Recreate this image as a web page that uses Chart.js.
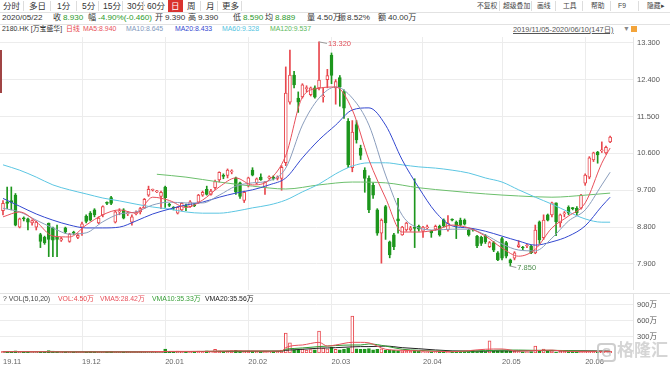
<!DOCTYPE html>
<html>
<head>
<meta charset="utf-8">
<script src="https://cdn.jsdelivr.net/npm/chart.js@4.4.0/dist/chart.umd.min.js"></script>
<style>
  body { margin: 0; width: 670px; height: 367px; overflow: hidden; background: #fff; position: relative;
         font-family: "Liberation Sans", "Noto Sans CJK SC", sans-serif; color: #333; }
  .a { position: absolute; white-space: nowrap; line-height: 1; }
  .tab { font-size: 8.5px; top: 2px; color: #333; }
  .sep { position: absolute; top: 1px; width: 1px; height: 10px; background: #ddd; }
  .tool { font-size: 6.8px; top: 3px; color: #444; }
  .r2 { font-size: 8.1px; top: 14px; }
  .r3 { font-size: 6.9px; top: 26px; }
  .vl { font-size: 6.9px; top: 296px; }
  .hl { position: absolute; left: 0; width: 670px; height: 1px; background: #e2e2e2; }
  .g { color: #2a9a2a; }
  .rd { color: #e8474d; }
  canvas { position: absolute; left: 0; }
</style>
</head>
<body>

<!-- toolbar -->
<div class="a tab" style="left:3px">分时</div>
<div class="sep" style="left:23px"></div>
<div class="a tab" style="left:29px">多日</div>
<div class="sep" style="left:50px"></div>
<div class="a tab" style="left:57px">1分</div>
<div class="sep" style="left:76px"></div>
<div class="a tab" style="left:82px">5分</div>
<div class="sep" style="left:98px"></div>
<div class="a tab" style="left:103px">15分</div>
<div class="sep" style="left:122px"></div>
<div class="a tab" style="left:127px">30分</div>
<div class="sep" style="left:143px"></div>
<div class="a tab" style="left:147px">60分</div>
<div class="a" style="left:168px;top:0;width:15px;height:12px;background:#d9322e;"></div>
<div class="a tab" style="left:171px;color:#fff">日</div>
<div class="a tab" style="left:187px">周</div>
<div class="sep" style="left:200px"></div>
<div class="a tab" style="left:206px">月</div>
<div class="sep" style="left:217px"></div>
<div class="a tab" style="left:222px">更多</div>
<div class="sep" style="left:241px"></div>

<div class="a tool" style="left:477px">不复权</div>
<div class="sep" style="left:499px"></div>
<div class="a tool" style="left:503px">超级叠加</div>
<div class="sep" style="left:531px"></div>
<div class="a tool" style="left:537px">画线</div>
<div class="sep" style="left:555px"></div>
<div class="a tool" style="left:563px">工具</div>
<div class="sep" style="left:582px"></div>
<div class="a tool" style="left:591px">帮助</div>
<div class="sep" style="left:610px"></div>
<div class="a tool" style="left:618px">F9</div>
<div class="sep" style="left:638px"></div>
<div class="a tool" style="left:647px">隐藏▸</div>
<div class="hl" style="top:12px"></div>

<!-- quote line -->
<div class="a r2" style="left:2px">2020/05/22</div>
<div class="a r2" style="left:53px">收</div><div class="a r2 g" style="left:63px">8.930</div>
<div class="a r2" style="left:88px">幅</div><div class="a r2 g" style="left:98px">-4.90%(-0.460)</div>
<div class="a r2" style="left:155px">开</div><div class="a r2" style="left:165px">9.390</div>
<div class="a r2" style="left:188px">高</div><div class="a r2" style="left:198px">9.390</div>
<div class="a r2" style="left:233px">低</div><div class="a r2 g" style="left:243px">8.590</div>
<div class="a r2" style="left:265px">均</div><div class="a r2 g" style="left:275px">8.889</div>
<div class="a r2" style="left:307px">量</div><div class="a r2" style="left:317px">4.50万</div>
<div class="a r2" style="left:338px">振</div><div class="a r2" style="left:347px">8.52%</div>
<div class="a r2" style="left:378px">额</div><div class="a r2" style="left:388px">40.00万</div>
<div class="hl" style="top:24px"></div>

<!-- MA legend line -->
<div class="a r3" style="left:2px">2180.HK [万宝盛华]</div>
<div class="a r3 rd" style="left:66px">日线</div>
<div class="a r3" style="left:83px;color:#e8505b">MA5:8.940</div>
<div class="a r3" style="left:126px;color:#7f98bd">MA10:8.645</div>
<div class="a r3" style="left:175px;color:#3348d0">MA20:8.433</div>
<div class="a r3" style="left:222px;color:#52c3e0">MA60:9.328</div>
<div class="a r3" style="left:270px;color:#5cb85c">MA120:9.537</div>
<div class="a r3" style="left:513px;color:#555;text-decoration:underline;font-size:7.4px">2019/11/05-2020/06/10(147日)</div>
<div class="a r3" style="left:623px;color:#888">▼</div>
<div class="a" style="left:631px;top:26px;width:6px;height:6px;background:#f3a43a;"></div>

<canvas id="price" width="670" height="253" style="top:37px"></canvas>
<canvas id="vol" width="670" height="77" style="top:290px"></canvas>

<div class="hl" style="top:293px"></div>
<div class="a vl" style="left:3px;color:#444">? VOL(5,10,20)</div>
<div class="a vl" style="left:58px;color:#e8474d">VOL:4.50万</div>
<div class="a vl" style="left:100px;color:#e8505b">VMA5:28.42万</div>
<div class="a vl" style="left:152px;color:#3aa03a">VMA10:35.33万</div>
<div class="a vl" style="left:205px;color:#222">VMA20:35.56万</div>

<div class="a" style="left:0;top:50px;width:2px;height:43px;background:#a04444;"></div>

<!-- watermark -->
<div class="a" style="left:597px;top:343px;width:15px;height:15px;border:2px solid rgba(190,190,190,0.75);border-radius:4px;
     font-size:13px;font-weight:bold;color:rgba(190,190,190,0.75);text-align:center;line-height:15px;">G</div>
<div class="a" style="left:617px;top:342px;font-size:17px;font-weight:bold;color:rgba(195,195,195,0.7);">格隆汇</div>

<script>
// ── DATA ─────────────────────────────────────
// 147 daily candles, 2019/11/05 – 2020/06/10 (x = trading-day index)
const opens = [
  9.20,9.42,9.45,9.58,8.80,9.02,9.00,8.90,8.80,8.62,8.55,8.90,8.78,8.55,8.48,8.78,8.45,8.68,8.55,
  8.80,9.07,9.14,9.22,8.90,9.10,9.40,9.52,8.92,9.17,9.22,9.12,8.92,9.12,9.17,9.27,9.58,9.70,9.66,9.55,
  9.78,9.35,9.28,9.14,9.22,9.32,9.30,9.34,9.41,9.58,9.72,9.60,9.76,9.95,10.06,10.06,10.15,10.00,9.88,9.45,
  9.82,10.19,9.87,10.02,9.76,10.00,10.02,9.99,9.99,
  10.37,11.85,12.51,11.95,11.98,12.18,12.03,12.20,12.20,11.98,12.40,13.00,12.20,12.45,12.10,11.38,10.25,
  11.30,10.73,10.19,9.99,9.82,9.22,8.65,9.30,8.44,8.61,9.00,8.61,8.73,8.73,8.80,8.82,
  8.70,8.78,8.70,8.75,8.82,8.97,8.73,8.98,8.92,8.97,8.97,8.73,
  8.74,8.58,8.55,8.58,8.32,8.42,8.17,8.52,8.42,8.00,8.04,8.32,8.30,8.34,8.34,8.17,8.93,8.54,9.10,9.10,9.39,
  8.90,9.12,9.28,9.26,9.26,9.26,9.87,10.02,10.44,10.63,10.66,10.61,10.88
];
const highs = [
  9.45,9.78,9.78,9.62,9.02,9.05,9.02,8.98,8.95,8.65,8.58,8.90,8.80,8.85,8.55,8.80,8.65,8.70,8.64,
  8.92,9.10,9.18,9.25,9.05,9.32,9.42,9.55,9.20,9.25,9.25,9.18,9.10,9.20,9.28,9.50,9.80,9.73,9.70,9.68,
  9.80,9.38,9.30,9.30,9.40,9.36,9.45,9.38,9.60,9.68,9.80,9.72,9.95,10.15,10.10,10.22,10.20,10.02,9.90,9.68,
  10.02,10.25,10.00,10.10,9.92,10.05,10.05,10.05,10.30,
  12.71,13.12,12.60,12.10,12.30,12.25,12.22,12.25,13.32,12.20,12.65,13.05,12.40,12.50,12.15,11.45,11.40,
  11.40,10.80,10.25,10.05,9.88,9.25,9.00,9.33,8.46,8.65,9.50,8.82,8.92,8.82,9.98,8.85,
  8.82,8.85,8.72,8.85,8.85,9.00,9.08,9.00,8.95,9.02,9.00,8.75,
  8.76,8.60,8.58,8.62,8.45,8.45,8.20,8.55,8.45,8.02,8.20,8.47,8.33,8.38,8.36,8.85,8.95,9.10,9.12,9.41,9.39,
  9.12,9.18,9.32,9.28,9.30,9.60,10.10,10.52,10.63,10.65,10.88,10.78,11.02
];
const lows = [
  9.10,9.25,9.22,8.83,8.78,8.95,8.73,8.85,8.73,8.30,8.38,8.08,8.08,8.08,8.45,8.65,8.43,8.62,8.52,
  8.60,8.90,8.95,9.05,8.88,9.05,9.35,9.35,8.90,9.10,9.00,9.08,8.85,9.10,9.12,9.25,9.55,9.68,9.64,9.25,
  9.28,9.30,9.22,9.12,9.20,9.20,9.28,9.30,9.38,9.55,9.58,9.58,9.72,9.90,9.98,10.00,10.10,9.60,9.50,9.40,
  9.78,10.05,9.85,9.94,9.60,9.97,9.95,9.95,9.70,
  10.30,11.80,12.20,11.60,11.95,12.10,12.00,11.95,12.15,11.85,12.20,12.30,11.80,11.75,11.45,10.25,10.15,
  10.85,10.45,9.65,9.15,9.50,8.60,7.92,8.50,8.05,8.25,8.65,8.60,8.70,8.70,8.30,8.70,
  8.55,8.75,8.55,8.72,8.58,8.80,8.70,8.95,8.52,8.82,8.85,8.58,
  8.70,8.30,8.35,8.40,8.30,8.20,7.98,8.00,8.05,7.85,8.00,8.30,8.25,8.30,8.15,8.15,8.40,8.50,8.95,9.05,8.59,
  8.80,9.05,9.10,9.22,9.10,9.24,9.82,9.98,10.40,10.36,10.62,10.58,10.86
];
const closes = [
  9.38,9.38,9.40,8.85,9.00,9.00,8.92,8.96,8.92,8.45,8.42,8.50,8.48,8.50,8.52,8.68,8.63,8.65,8.60,
  8.88,8.94,8.97,9.10,9.02,9.30,9.38,9.38,9.17,9.18,9.02,9.15,9.05,9.15,9.25,9.48,9.72,9.71,9.68,9.65,
  9.52,9.33,9.26,9.28,9.38,9.30,9.42,9.32,9.58,9.65,9.60,9.68,9.91,10.14,10.04,10.19,10.16,9.65,9.55,9.65,
  10.00,10.07,9.98,9.96,9.90,10.02,9.99,10.02,10.26,
  12.07,12.51,12.27,11.85,12.27,12.20,12.20,11.97,12.39,12.00,12.50,12.50,12.35,12.22,11.70,10.32,11.12,
  10.93,10.55,9.99,9.22,9.58,8.65,8.97,8.90,8.12,8.32,8.95,8.80,8.90,8.78,8.77,8.75,
  8.80,8.80,8.66,8.82,8.61,8.82,8.90,8.97,8.82,8.85,8.87,8.61,
  8.73,8.34,8.40,8.44,8.42,8.24,8.00,8.04,8.09,7.93,8.17,8.37,8.29,8.35,8.17,8.73,8.49,8.97,8.97,9.39,8.93,
  9.10,9.15,9.14,9.25,9.15,9.58,10.07,10.49,10.61,10.56,10.68,10.75,11.00
];
// volume, 万 shares
const vols = [
  30,25,20,40,20,15,20,15,15,25,20,45,35,30,15,20,15,15,15,
  20,15,25,20,15,15,20,25,15,15,10,20,15,15,20,20,25,15,15,20,
  75,
  30,25,35,30,25,30,25,35,30,40,25,70,40,30,35,45,50,40,35,
  40,35,30,30,35,25,30,30,55,
  375,190,60,50,70,55,65,60,410,90,80,110,70,60,75,90,690,80,70,75,85,60,70,80,55,60,50,45,40,35,30,55,30,
  25,20,20,25,30,25,20,20,25,20,20,20,
  50,25,30,25,230,40,35,40,30,35,30,25,20,20,25,130,40,75,35,40,4.5,
  35,30,25,30,25,30,35,30,35,25,30,25,30
];

// moving averages at these day indices
const maIdx = [0,4,8,12,16,20,24,28,32,36,40,44,48,52,56,60,64,68,72,76,80,84,88,92,96,100,104,108,112,116,120,124,128,132,136,140,144,146];
const ma5  = [9.05,9.17,8.93,8.58,8.56,8.85,9.10,9.22,9.14,9.53,9.45,9.28,9.46,9.78,10.00,9.83,9.95,10.55,11.97,12.19,12.22,11.66,10.44,9.51,8.68,8.68,8.73,8.85,8.78,8.58,8.29,8.09,8.26,8.78,9.07,9.39,10.36,10.73];
const ma10 = [9.26,9.17,8.97,8.78,8.63,8.66,8.93,9.12,9.17,9.34,9.41,9.39,9.39,9.58,9.80,9.88,9.93,10.24,11.29,11.95,12.22,11.95,11.29,10.07,9.09,8.78,8.73,8.75,8.75,8.61,8.39,8.24,8.22,8.53,8.95,9.22,9.83,10.14];
const ma20 = [9.50,9.31,9.12,8.97,8.85,8.78,8.78,8.80,8.95,9.12,9.24,9.34,9.41,9.53,9.63,9.71,9.83,10.00,10.49,10.93,11.29,11.66,11.71,11.29,10.44,9.76,9.17,8.83,8.78,8.70,8.58,8.46,8.36,8.44,8.58,8.83,9.31,9.53];
const ma60 = [10.32,10.19,10.02,9.83,9.71,9.61,9.51,9.44,9.36,9.29,9.24,9.17,9.14,9.14,9.19,9.27,9.34,9.46,9.66,9.85,10.10,10.29,10.37,10.37,10.32,10.27,10.24,10.19,10.12,10.00,9.90,9.71,9.53,9.36,9.17,9.00,8.92,8.92];
const ma120Idx = [37,44,52,60,68,76,84,92,100,108,116,124,132,140,146];
const ma120    = [10.09,10.02,9.90,9.80,9.73,9.83,9.90,9.88,9.76,9.68,9.61,9.56,9.53,9.58,9.63];

const vmaIdx = [0,8,16,24,32,40,48,56,64,67,68,70,72,76,78,80,84,86,88,92,96,100,108,116,118,120,124,128,132,136,140,146];
const vma5  = [25,25,20,20,20,30,30,40,35,40,100,140,150,200,130,150,200,200,190,70,50,40,25,70,75,75,35,45,55,30,30,30];
const vma10 = [25,25,22,20,20,25,30,35,35,38,70,85,95,120,130,140,150,150,170,130,70,50,30,45,50,55,55,50,50,45,35,30];
const vma20 = [25,25,22,22,22,25,28,32,34,35,50,60,70,90,95,100,115,120,120,130,100,80,40,35,40,40,40,45,45,40,40,35];

// axis ticks
const monthIdx = [0,19,39,59,79,101,120,140];
const monthLbl = ['19.11','19.12','20.01','20.02','20.03','20.04','20.05','20.06'];
const priceTicks = [7.9,8.8,9.7,10.6,11.5,12.4,13.3];
const volTicks = [300,600,900];

// ── STYLE ────────────────────────────────────
const RED = '#e8474d', GREEN = '#1d961d', GRID = '#ececec';
const FONT = '"Liberation Sans", "Noto Sans CJK SC", sans-serif';
const up = closes.map((c, i) => c >= opens[i]);
const days = closes.map((_, i) => i);
const pts = (xs, ys) => xs.map((x, k) => ({ x, y: ys[k] }));

function xAxis(showLabels) {
  return {
    type: 'linear', min: -0.72, max: 151.5, offset: false,
    afterBuildTicks: s => { s.ticks = monthIdx.map(v => ({ value: v })); },
    grid: { color: c => c.index === 0 ? 'rgba(0,0,0,0)' : GRID, drawTicks: false, offset: false },
    border: { display: false },
    ticks: { display: showLabels, align: 'start', maxRotation: 0, autoSkip: false, padding: 4,
             color: '#666', font: { size: 7.5, family: FONT }, callback: (v, i) => monthLbl[i] },
    afterFit: s => { s.paddingLeft = 0; s.paddingRight = 0; s.height = showLabels ? 14 : 0; }
  };
}

function maLine(xs, ys, color) {
  return { type: 'line', data: pts(xs, ys), borderColor: color, borderWidth: 1, pointRadius: 0,
           cubicInterpolationMode: 'monotone', fill: false };
}

// ── HIGH / LOW MARKERS ───────────────────────
const extremes = {
  id: 'extremes',
  afterDatasetsDraw(chart) {
    const { ctx, scales: { x, y } } = chart;
    const hi = Math.max(...highs), hiI = highs.indexOf(hi);
    const lo = Math.min(...lows),  loI = lows.indexOf(lo);
    ctx.save();
    ctx.font = '7.5px ' + FONT;
    ctx.textBaseline = 'middle';
    ctx.lineWidth = 1;
    ctx.strokeStyle = '#9a9a9a';
    let px = x.getPixelForValue(hiI), py = y.getPixelForValue(hi);
    ctx.beginPath(); ctx.moveTo(px, py); ctx.lineTo(px + 8, py + 1.5); ctx.stroke();
    ctx.fillStyle = '#e0505a'; ctx.fillText(hi.toFixed(3), px + 9, py + 2);
    px = x.getPixelForValue(loI); py = y.getPixelForValue(lo);
    ctx.beginPath(); ctx.moveTo(px, py); ctx.lineTo(px + 6, py + 1.5); ctx.stroke();
    ctx.fillStyle = '#4f8f4f'; ctx.fillText(lo.toFixed(3), px + 7, py + 2);
    ctx.restore();
  }
};

Chart.defaults.animation = false;
Chart.defaults.plugins.legend.display = false;
Chart.defaults.plugins.tooltip.enabled = false;

// ── PRICE CHART ──────────────────────────────
new Chart(document.getElementById('price'), {
  type: 'bar',
  data: {
    datasets: [
      maLine(maIdx, ma5, '#e8505b'),
      maLine(maIdx, ma10, '#8a9dbc'),
      maLine(maIdx, ma20, '#3348d0'),
      maLine(maIdx, ma60, '#5cc6e2'),
      maLine(ma120Idx, ma120, '#6cbf6c'),
      { // candle bodies
        data: days.map(i => ({ x: i, y: [opens[i], closes[i]] })),
        backgroundColor: up.map(u => u ? '#fff' : GREEN),
        borderColor: up.map(u => u ? RED : GREEN),
        borderWidth: 1, borderSkipped: false, barThickness: 3, minBarLength: 1, grouped: false
      },
      { // wicks
        data: days.map(i => ({ x: i, y: [lows[i], highs[i]] })),
        backgroundColor: up.map(u => u ? RED : GREEN),
        borderWidth: 0, barThickness: 1, grouped: false
      }
    ]
  },
  options: {
    responsive: false, devicePixelRatio: 1,
    layout: { padding: 0 },
    scales: {
      x: xAxis(false),
      y: {
        position: 'right', min: 7.265, max: 13.44,
        afterBuildTicks: s => { s.ticks = priceTicks.map(v => ({ value: v })); },
        grid: { color: GRID, drawTicks: false },
        border: { display: true, color: '#e4e4e4' },
        ticks: { padding: 4, color: '#555', font: { size: 7.5, family: FONT }, callback: v => v.toFixed(3) },
        afterFit: s => { s.width = 37; s.paddingTop = 0; s.paddingBottom = 0; }
      }
    }
  },
  plugins: [extremes]
});

// ── VOLUME CHART ─────────────────────────────
new Chart(document.getElementById('vol'), {
  type: 'bar',
  data: {
    datasets: [
      maLine(vmaIdx, vma5, '#e8505b'),
      maLine(vmaIdx, vma10, '#2e9a2e'),
      maLine(vmaIdx, vma20, '#222'),
      {
        data: days.map(i => ({ x: i, y: vols[i] })),
        backgroundColor: up.map(u => u ? '#fff' : GREEN),
        borderColor: up.map(u => u ? RED : GREEN),
        borderWidth: 1, borderSkipped: false, barThickness: 3, minBarLength: 1, grouped: false
      }
    ]
  },
  options: {
    responsive: false, devicePixelRatio: 1,
    layout: { padding: { top: 4 } },
    scales: {
      x: xAxis(true),
      y: {
        position: 'right', min: 0, max: 1106,
        afterBuildTicks: s => { s.ticks = volTicks.map(v => ({ value: v })); },
        grid: { color: GRID, drawTicks: false },
        border: { display: true, color: '#e4e4e4' },
        ticks: { padding: 4, color: '#555', font: { size: 7.5, family: FONT }, callback: v => v + '万' },
        afterFit: s => { s.width = 37; s.paddingTop = 0; s.paddingBottom = 0; }
      }
    }
  }
});
</script>
</body>
</html>
